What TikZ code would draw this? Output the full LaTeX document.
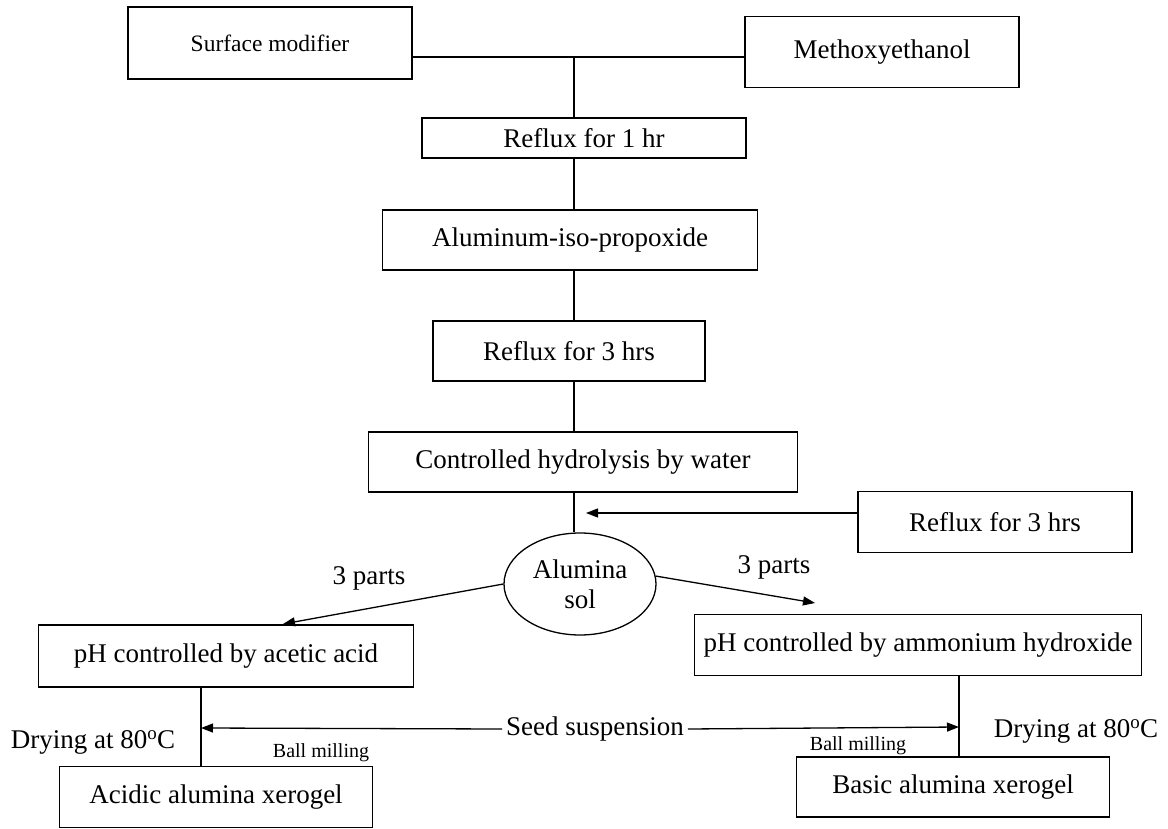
\documentclass[tikz,border=0pt]{standalone}
\usepackage{fontspec}
\setmainfont{Liberation Serif}
\usetikzlibrary{arrows.meta,positioning,shapes.geometric,calc}

\tikzset{
  box/.style={draw, rectangle, inner sep=0pt, fill=white},
  arr/.style={-{Triangle[length=12pt,width=9pt]}},
  small/.style={font=\fontsize{20}{23}\selectfont}
}

\begin{document}
\begin{tikzpicture}[x=1pt, y=-1pt, line width=1.3pt, font=\fontsize{27}{30}\selectfont]
    \useasboundingbox (0,0) rectangle (1168,829);

    % Starting materials
    \node[box, minimum width=284, minimum height=72, font=\fontsize{23.5}{27}\selectfont] (surf) at (270,43) {Surface modifier};
    \node[box, minimum width=274, minimum height=71] (meth) at (882,52) {Methoxyethanol};

    % Main sequence
    \node[box, minimum width=324, minimum height=40] (rfxA) at (584,138) {Reflux for 1 hr};
    \node[box, minimum width=375, minimum height=60] (alum) at (570,240) {Aluminum-iso-propoxide};
    \node[box, minimum width=272, minimum height=60] (rfxB) at (569,351) {Reflux for 3 hrs};
    \node[box, minimum width=429, minimum height=60] (hydro) at (583,462) {Controlled hydrolysis by water};
    \node[box, minimum width=274, minimum height=61] (rfxC) at (995,522) {Reflux for 3 hrs};
    \node[draw, ellipse, inner sep=0pt, minimum width=152, minimum height=102, align=center] (sol) at (580,584) {Alumina\\sol};

    % Splitting into two parts
    \node[box, minimum width=375, minimum height=62] (acid) at (226,656) {pH controlled by acetic acid};
    \node[box, minimum width=447, minimum height=61] (base) at (918,645) {pH controlled by ammonium hydroxide};
    \node (partsL) at (369,578) {3 parts};
    \node (partsR) at (774,567) {3 parts};

    % Xerogels
    \node[box, minimum width=313, minimum height=61] (acx) at (216,797) {Acidic alumina xerogel};
    \node[box, minimum width=313, minimum height=60] (bax) at (953,787) {Basic alumina xerogel};
    \node (dryL) at (93,742) {Drying at 80\textsuperscript{o}C};
    \node (dryR) at (1076,731) {Drying at 80\textsuperscript{o}C};
    \node[small] (millL) at (321,753) {Ball milling};
    \node[small] (millR) at (858,746) {Ball milling};
    \node (seed) at (595,729) {Seed suspension};

    % Spine
    \coordinate (sp) at (574,57);
    \coordinate (inR) at (586,513);
    \draw (surf.east |- sp) -- (meth.west |- sp);
    \draw (sp) -- (sp |- rfxA.north);
    \draw (sp |- rfxA.south) -- (sp |- alum.north);
    \draw (sp |- alum.south) -- (sp |- rfxB.north);
    \draw (sp |- rfxB.south) -- (sp |- hydro.north);
    \draw (sp |- hydro.south) -- (sp |- sol.north);
    \draw[arr] (rfxC.west |- inR) -- (inR);

    % Branches
    \coordinate (tipL) at (283,624);
    \coordinate (tipR) at (815,603);
    \draw[arr] (sol.west) -- (tipL);
    \draw[arr] (sol.6) -- (tipR);

    % Drying and seeds
    \coordinate (dL) at (201,728);
    \coordinate (dR) at (959,727);
    \draw (dL |- acid.south) -- (dL |- acx.north);
    \draw (dR |- base.south) -- (dR |- bax.north);
    \draw[arr] (seed.west) -- (dL);
    \draw[arr] (seed.east) -- (dR);

\end{tikzpicture}
\end{document}
